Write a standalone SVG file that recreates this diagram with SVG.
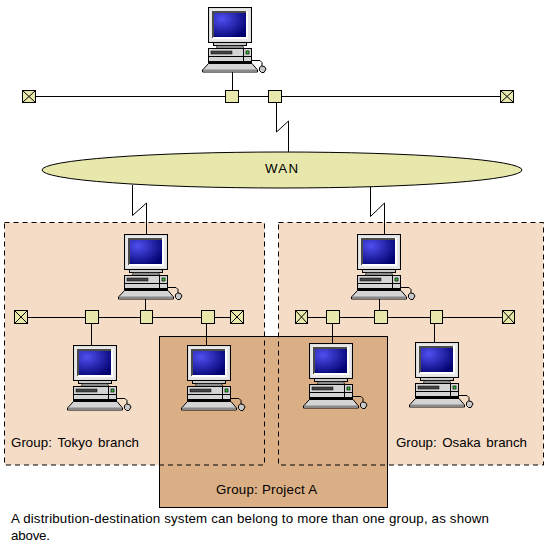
<svg xmlns="http://www.w3.org/2000/svg" width="550" height="548" viewBox="0 0 550 548">
<style>
.ln{fill:none;stroke:#000;stroke-width:1}
.j{fill:#E8E8AC;stroke:#000;stroke-width:1}
.g{fill:none;stroke:#000;stroke-width:1;stroke-dasharray:5 4}
text{font-family:"Liberation Sans",Arial,sans-serif;font-size:13.3px;fill:#000}
</style>
<defs>
<radialGradient id="scr" cx="0.25" cy="0.25" r="0.9"><stop offset="0" stop-color="#4F4FF0"/><stop offset="1" stop-color="#00006E"/></radialGradient>
<symbol id="pc" overflow="visible" width="44" height="66">
<rect x="0.5" y="0.5" width="43" height="35" fill="#D4D4D4" stroke="#000"/>
<rect x="1.5" y="1.5" width="41" height="33" fill="#E8E8E8"/>
<rect x="4" y="4" width="35" height="27" fill="#4A4A4A"/>
<rect x="38" y="4" width="2" height="28" fill="#fff"/>
<rect x="5" y="30" width="35" height="2" fill="#fff"/>
<rect x="6" y="6" width="32" height="24" fill="url(#scr)"/>
<rect x="5.500" y="35.500" width="33" height="3" fill="#C8C8C8" stroke="#000"/>
<path d="M9.500 38.500H34.500L36 41.500H8Z" fill="#8C8C8C" stroke="#000" stroke-width="0.6"/>
<rect x="0.500" y="41.500" width="43" height="13" fill="#D4D4D4" stroke="#000"/>
<path d="M0.500 49.500H43.500M35.500 41.500V54.500" class="ln"/>
<rect x="3" y="44" width="21" height="3" fill="#444" stroke="#000" stroke-width="0.5"/>
<rect x="38" y="44" width="3" height="3" fill="#3C3" stroke="#000" stroke-width="0.7"/>
<rect x="0" y="54.500" width="44" height="2" fill="#000"/>
<path d="M0.500 56.500H44L49.500 63V65H-5.500V63Z" fill="#D4D4D4" stroke="#000"/>
<rect x="-5" y="62.500" width="54" height="2.500" fill="#888"/>
<path d="M44 53.500H52L54 55.500V59" class="ln"/>
<path d="M51.500 60.500L53.500 59L56.500 59.500L58 62L56 65.500H53.500L51.500 63.500Z" fill="#C8C8C8" stroke="#000"/>
</symbol>
</defs>
<g id="group-fills">
<rect x="4.500" y="222.500" width="260" height="242.500" fill="#F5DCC6"/>
<rect x="278.500" y="222.500" width="265" height="242.500" fill="#F5DCC6"/>
</g>
<g id="group-project-a">
<rect x="159.500" y="336.500" width="228" height="171" fill="#DAAF85" stroke="#000"/>
<text x="216" y="494" textLength="101">Group: Project A</text>
</g>
<g id="group-tokyo">
<rect class="g" x="4.500" y="222.500" width="260" height="242.500"/>
<text x="11" y="447" textLength="128" word-spacing="2">Group: Tokyo branch</text>
</g>
<g id="group-osaka">
<rect class="g" x="278.500" y="222.500" width="265" height="242.500"/>
<text x="396" y="447" textLength="131" word-spacing="2">Group: Osaka branch</text>
</g>
<g id="connectors">
<path class="ln" d="M29 96.500H507"/>
<path class="ln" d="M232.500 72V90"/>
<path class="ln" d="M276.500 103V132L288.500 121V152"/>
<path class="ln" d="M132.500 185V215.500L146.500 203V234"/>
<path class="ln" d="M370.500 185V216.500L384.500 203V234"/>
<path class="ln" d="M21 317.500H237"/>
<path class="ln" d="M301 317.500H508"/>
<path class="ln" d="M145.500 299V310"/>
<path class="ln" d="M91.500 323V345"/>
<path class="ln" d="M206.500 323V345"/>
<path class="ln" d="M379.500 298V310"/>
<path class="ln" d="M332.500 323V343"/>
<path class="ln" d="M434.500 323V342"/>
</g>
<g id="pc-top"><use href="#pc" x="208" y="7"/></g>
<g id="pc-tokyo-main"><use href="#pc" x="124" y="234"/></g>
<g id="pc-tokyo-left"><use href="#pc" x="73" y="345"/></g>
<g id="pc-tokyo-right"><use href="#pc" x="187" y="345"/></g>
<g id="pc-osaka-main"><use href="#pc" x="357" y="234"/></g>
<g id="pc-project"><use href="#pc" x="309" y="343"/></g>
<g id="pc-osaka-right"><use href="#pc" x="415" y="342"/></g>
<g id="wan">
<ellipse cx="282" cy="170" rx="240" ry="18" class="j"/>
<text x="265" y="173" textLength="33">WAN</text>
</g>
<g id="top-term-l"><rect class="j" x="22.500" y="90.500" width="13" height="12"/><path class="ln" d="M22.500 90.500L35.500 102.500M35.500 90.500L22.500 102.500"/></g>
<g id="top-node-1"><rect class="j" x="225.500" y="90.500" width="13" height="12"/></g>
<g id="top-node-2"><rect class="j" x="268.500" y="90.500" width="13" height="12"/></g>
<g id="top-term-r"><rect class="j" x="500.500" y="90.500" width="13" height="12"/><path class="ln" d="M500.500 90.500L513.500 102.500M513.500 90.500L500.500 102.500"/></g>
<g id="tokyo-term-l"><rect class="j" x="14.500" y="310.500" width="13" height="13"/><path class="ln" d="M14.500 310.500L27.500 323.500M27.500 310.500L14.500 323.500"/></g>
<g id="tokyo-node-1"><rect class="j" x="85.500" y="310.500" width="13" height="13"/></g>
<g id="tokyo-node-2"><rect class="j" x="140.500" y="310.500" width="12" height="13"/></g>
<g id="tokyo-node-3"><rect class="j" x="201.500" y="310.500" width="13" height="13"/></g>
<g id="tokyo-term-r"><rect class="j" x="230.500" y="310.500" width="13" height="13"/><path class="ln" d="M230.500 310.500L243.500 323.500M243.500 310.500L230.500 323.500"/></g>
<g id="osaka-term-l"><rect class="j" x="295.500" y="310.500" width="12" height="13"/><path class="ln" d="M295.500 310.500L307.500 323.500M307.500 310.500L295.500 323.500"/></g>
<g id="osaka-node-1"><rect class="j" x="326.500" y="310.500" width="13" height="13"/></g>
<g id="osaka-node-2"><rect class="j" x="374.500" y="310.500" width="13" height="13"/></g>
<g id="osaka-node-3"><rect class="j" x="430.500" y="310.500" width="12" height="13"/></g>
<g id="osaka-term-r"><rect class="j" x="502.500" y="310.500" width="12" height="13"/><path class="ln" d="M502.500 310.500L514.500 323.500M514.500 310.500L502.500 323.500"/></g>
<g id="caption">
<text x="11" y="523" textLength="478">A distribution-destination system can belong to more than one group, as shown</text>
<text x="11" y="540" textLength="39">above.</text>
</g>
</svg>
